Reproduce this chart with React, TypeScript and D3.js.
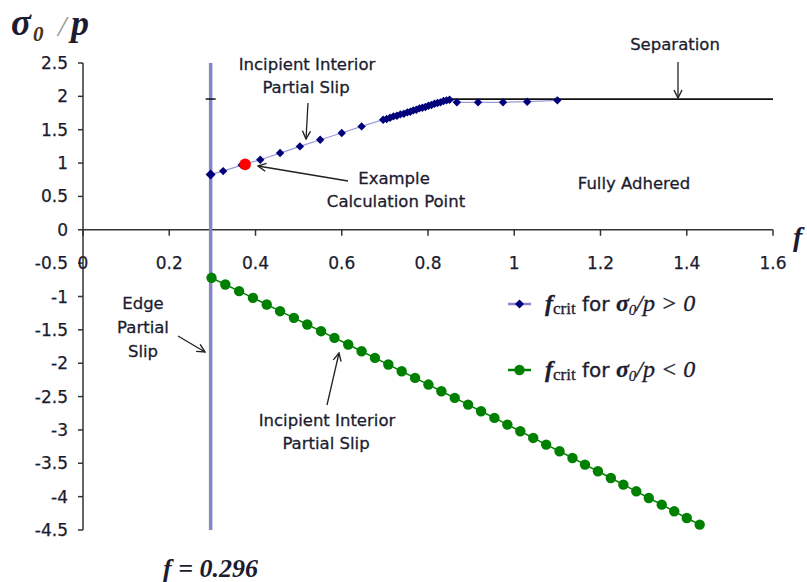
import * as d3 from "d3";

// axis ticks
const xTicks = [0, 0.2, 0.4, 0.6, 0.8, 1, 1.2, 1.4, 1.6];
const yTicks = [2.5, 2, 1.5, 1, 0.5, 0, -0.5, -1, -1.5, -2, -2.5, -3, -3.5, -4, -4.5];

// f_crit for sigma0/p > 0 (diamonds)
const upperF = [
  0.296, 0.325, 0.368, 0.411, 0.457, 0.503, 0.55, 0.6, 0.646, 0.696, 0.704, 0.712,
  0.72, 0.728, 0.736, 0.744, 0.752, 0.759, 0.766, 0.773, 0.78, 0.787, 0.794,
  0.801, 0.808, 0.815, 0.822, 0.829, 0.836, 0.843, 0.85, 0.867, 0.916, 0.974, 1.03, 1.1,
];
const upperS = [
  0.83, 0.88, 0.97, 1.05, 1.15, 1.25, 1.35, 1.45, 1.55, 1.65, 1.66, 1.68,
  1.7, 1.71, 1.73, 1.74, 1.76, 1.77, 1.79, 1.8, 1.82, 1.83, 1.84,
  1.86, 1.87, 1.89, 1.9, 1.91, 1.93, 1.94, 1.95, 1.91, 1.91, 1.91, 1.92, 1.94,
];

// f_crit for sigma0/p < 0 (green dots)
const lowerF = [
  0.298, 0.33, 0.362, 0.394, 0.426, 0.457, 0.489, 0.52, 0.552, 0.583, 0.615, 0.646,
  0.677, 0.708, 0.739, 0.77, 0.801, 0.831, 0.862, 0.893, 0.923, 0.954, 0.984, 1.014,
  1.044, 1.074, 1.105, 1.135, 1.164, 1.194, 1.224, 1.253, 1.283, 1.312, 1.342, 1.371,
  1.4, 1.43,
];
const lowerS = [
  -0.72, -0.82, -0.92, -1.02, -1.12, -1.22, -1.32, -1.42, -1.52, -1.62, -1.72, -1.82,
  -1.92, -2.02, -2.12, -2.22, -2.32, -2.42, -2.52, -2.62, -2.72, -2.82, -2.92, -3.02,
  -3.12, -3.22, -3.32, -3.42, -3.52, -3.62, -3.72, -3.82, -3.92, -4.02, -4.12, -4.22,
  -4.32, -4.42,
];

const exampleF = 0.376;
const exampleS = 0.98;
const edgeF = 0.296;
const separationF = [0.84, 1.6];
const separationS = [1.96, 1.96];

const W = 807;
const H = 582;

const sans = "'DejaVu Sans', Verdana, sans-serif";
const serif = "'Liberation Serif', 'Times New Roman', serif";
const ink = "#1c1c30";

export default function App() {
  const x = d3.scaleLinear().domain([0, 1.6]).range([83, 773]);
  const y = d3.scaleLinear().domain([-4.5, 2.5]).range([530, 63]);

  const upper = upperF.map((f, i) => [f, upperS[i]] as [number, number]);
  const lower = lowerF.map((f, i) => [f, lowerS[i]] as [number, number]);
  const line = d3
    .line<[number, number]>()
    .x((d) => x(d[0]))
    .y((d) => y(d[1]));

  const diamond = (cx: number, cy: number, r = 4.2) =>
    `M${cx},${cy - r}L${cx + r},${cy}L${cx},${cy + r}L${cx - r},${cy}Z`;

  const arrow = (x1: number, y1: number, x2: number, y2: number, key: string) => (
    <line
      key={key}
      x1={x1}
      y1={y1}
      x2={x2}
      y2={y2}
      stroke="#222"
      strokeWidth={1.3}
      markerEnd="url(#arr)"
    />
  );

  const legendLabel = (yy: number, rel: string) => (
    <text x={545} y={yy} fontSize={24} fill={ink} stroke={ink} strokeWidth={0.3}>
      <tspan fontFamily={serif} fontStyle="italic" fontWeight="bold">f</tspan>
      <tspan fontFamily={serif} fontSize={17} dy={3}>crit</tspan>
      <tspan fontFamily={sans} fontSize={20} dy={-3}> for </tspan>
      <tspan fontFamily={serif} fontStyle="italic" fontWeight="bold">σ</tspan>
      <tspan fontFamily={serif} fontStyle="italic" fontSize={15} dy={4}>0</tspan>
      <tspan fontFamily={serif} fontStyle="italic" dy={-4}>/p {rel} 0</tspan>
    </text>
  );

  return (
    <svg
      width={W}
      height={H}
      viewBox={`0 0 ${W} ${H}`}
      style={{ position: "absolute", left: 0, top: 0, background: "#fff" }}
    >
      <defs>
        <marker
          id="arr"
          viewBox="0 0 10 10"
          refX="9"
          refY="5"
          markerWidth="10"
          markerHeight="10"
          markerUnits="userSpaceOnUse"
          orient="auto"
        >
          <path d="M1,1L9,5L1,9" fill="none" stroke="#222" strokeWidth={1.4} />
        </marker>
      </defs>
      <rect width={W} height={H} fill="#fff" />

      {/* title */}
      <g fontFamily={serif} fontStyle="italic" fontWeight="bold" fill={ink}>
        <text x={11} y={35} fontSize={37}>σ</text>
        <text x={33} y={41} fontSize={21} fill="#4a3010">0</text>
        <text x={58} y={36} fontSize={30} fontWeight="normal" fill="#999">/</text>
        <text x={71} y={35} fontSize={36}>p</text>
      </g>

      {/* y axis */}
      <line x1={x(0)} x2={x(0)} y1={y(2.5)} y2={y(-4.5)} stroke="#333" strokeWidth={1.5} />
      {yTicks.map((t) => (
        <g key={"y" + t}>
          <line x1={x(0) - 5} x2={x(0)} y1={y(t)} y2={y(t)} stroke="#333" strokeWidth={1.5} />
          <text x={68} y={y(t) + 6} textAnchor="end" fontFamily={sans} fontSize={17} fill={ink} stroke={ink} strokeWidth={0.25}>
            {String(t)}
          </text>
        </g>
      ))}

      {/* x axis */}
      <line x1={x(0)} x2={x(1.6)} y1={y(0)} y2={y(0)} stroke="#333" strokeWidth={1.5} />
      {xTicks.map((t) => (
        <g key={"x" + t}>
          <line x1={x(t)} x2={x(t)} y1={y(0)} y2={y(0) + 6} stroke="#333" strokeWidth={1.5} />
          <text x={x(t)} y={y(0) + 39} textAnchor="middle" fontFamily={sans} fontSize={17} fill={ink} stroke={ink} strokeWidth={0.25}>
            {String(t)}
          </text>
        </g>
      ))}

      {/* edge partial slip boundary */}
      <line x1={x(edgeF)} x2={x(edgeF)} y1={y(2.5)} y2={y(-4.5)} stroke="#8585cc" strokeWidth={3.5} />
      <line x1={x(edgeF) - 5} x2={x(edgeF) + 5} y1={y(separationS[0])} y2={y(separationS[0])} stroke="#111" strokeWidth={1.5} />

      {/* separation */}
      <line
        x1={x(separationF[0])}
        x2={x(separationF[1])}
        y1={y(separationS[0])}
        y2={y(separationS[1])}
        stroke="#111"
        strokeWidth={1.8}
      />

      {/* upper series */}
      <path d={line(upper) ?? ""} fill="none" stroke="#9a9ad8" strokeWidth={1.2} />
      {upper.map((d, i) => (
        <path key={"u" + i} d={diamond(x(d[0]), y(d[1]), i === 0 ? 5 : 4.2)} fill="#00007a" />
      ))}

      {/* lower series */}
      <path d={line(lower) ?? ""} fill="none" stroke="#008000" strokeWidth={1.5} />
      {lower.map((d, i) => (
        <circle key={"l" + i} cx={x(d[0])} cy={y(d[1])} r={5.2} fill="#008000" />
      ))}

      {/* example point */}
      <circle cx={x(exampleF)} cy={y(exampleS)} r={5.8} fill="#ff0000" />

      {/* annotations */}
      <g fontFamily={sans} fontSize={16.5} fill={ink} stroke={ink} strokeWidth={0.3} textAnchor="middle">
        <text x={307} y={70}>Incipient  Interior</text>
        <text x={306} y={93}>Partial Slip</text>
        <text x={675} y={50}>Separation</text>
        <text x={394} y={184}>Example</text>
        <text x={396} y={207}>Calculation Point</text>
        <text x={634} y={189}>Fully Adhered</text>
        <text x={143} y={309}>Edge</text>
        <text x={143} y={333}>Partial</text>
        <text x={143} y={357}>Slip</text>
        <text x={327} y={426}>Incipient  Interior</text>
        <text x={326} y={449}>Partial Slip</text>
      </g>
      {arrow(308, 103, 306, 139, "a1")}
      {arrow(678, 62, 678, 98, "a2")}
      {arrow(348, 181, 258, 166, "a3")}
      {arrow(178, 336, 205, 352, "a4")}
      {arrow(327, 405, 339, 353, "a5")}

      {/* legend */}
      <line x1={508} x2={531} y1={304} y2={304} stroke="#8585cc" strokeWidth={2.5} />
      <path d={diamond(519.5, 304, 4.5)} fill="#00007a" />
      {legendLabel(311, ">")}
      <line x1={508} x2={531} y1={370} y2={370} stroke="#008000" strokeWidth={2.5} />
      <circle cx={519.5} cy={370} r={5.2} fill="#008000" />
      {legendLabel(377, "<")}

      {/* axis name and boundary label */}
      <text x={793} y={246} fontFamily={serif} fontSize={28} fontStyle="italic" fontWeight="bold" fill={ink}>
        f
      </text>
      <text x={163} y={577} fontFamily={serif} fontSize={26} fontStyle="italic" fontWeight="bold" fill={ink}>
        f = 0.296
      </text>
    </svg>
  );
}
